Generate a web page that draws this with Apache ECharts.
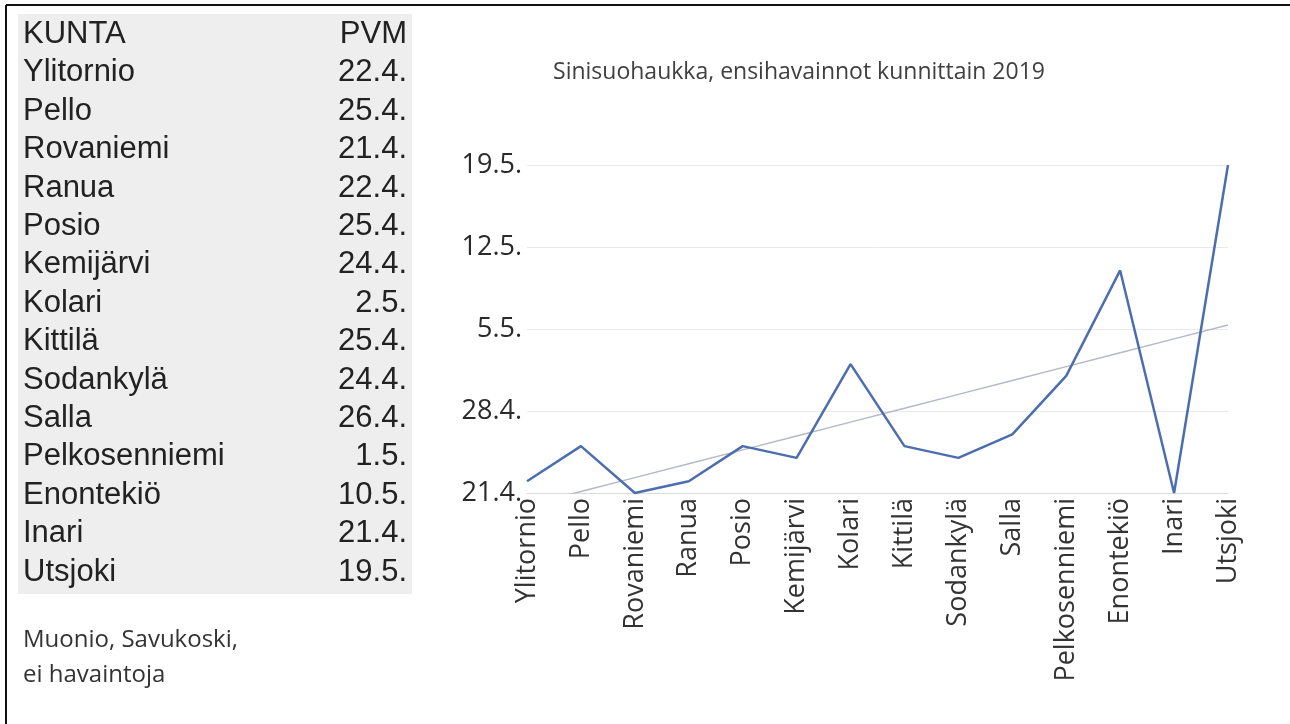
<!DOCTYPE html>
<html>
<head>
<meta charset="utf-8">
<script src="https://cdn.jsdelivr.net/npm/echarts@6/dist/echarts.min.js"></script>
<style>
html,body{margin:0;padding:0;background:#fff;}
#chart{width:1290px;height:724px;}
</style>
</head>
<body>
<div id="chart"></div>
<script>
// ---- Data ----
const municipalities = ["Ylitornio","Pello","Rovaniemi","Ranua","Posio","Kemijärvi","Kolari","Kittilä","Sodankylä","Salla","Pelkosenniemi","Enontekiö","Inari","Utsjoki"];
const firstSeen = ["22.4.","25.4.","21.4.","22.4.","25.4.","24.4.","2.5.","25.4.","24.4.","26.4.","1.5.","10.5.","21.4.","19.5."];
const yTickLabels = ["21.4.","28.4.","5.5.","12.5.","19.5."];
const tableHeader = ["KUNTA","PVM"];
const noteLines = ["Muonio, Savukoski,","ei havaintoja"];
const titleText = "Sinisuohaukka, ensihavainnot kunnittain 2019";

// convert "d.m." to days since the first tick date (21.4.)
const monthLen = [31,28,31,30,31,30,31,31,30,31,30,31];
function dayOfYear(s){
  const p = s.split(".");
  const d = +p[0], m = +p[1];
  let n = d;
  for(let i=0;i<m-1;i++) n += monthLen[i];
  return n;
}
const base = dayOfYear(yTickLabels[0]);
const values = firstSeen.map(s => dayOfYear(s) - base);

// linear trend line (least squares) from the data
const n = values.length;
const xs = values.map((_,i)=>i+1);
const mx = xs.reduce((a,b)=>a+b,0)/n;
const my = values.reduce((a,b)=>a+b,0)/n;
let sxy=0,sxx=0;
for(let i=0;i<n;i++){sxy+=(xs[i]-mx)*(values[i]-my);sxx+=(xs[i]-mx)*(xs[i]-mx);}
const slope = sxy/sxx, icpt = my - slope*mx;
const trend = xs.map(x => icpt + slope*x);

// ---- Table graphics ----
const graphics = [];
graphics.push({type:'rect', shape:{x:18,y:14,width:394,height:580}, style:{fill:'#eeeeee'}, z:-10});
graphics.push({type:'line', shape:{x1:6,y1:5,x2:1290,y2:5}, style:{stroke:'#111',lineWidth:2}});
graphics.push({type:'line', shape:{x1:6,y1:5,x2:6,y2:724}, style:{stroke:'#111',lineWidth:2}});
const rowY0 = 36, rowH = 38.4;
const tFont = '31px "Liberation Sans", Arial, sans-serif';
graphics.push({type:'text', left:23, top:rowY0-17, style:{text:tableHeader[0], font:tFont, fill:'#222'}});
graphics.push({type:'text', right:1290-407, top:rowY0-17, style:{text:tableHeader[1], font:tFont, fill:'#222'}});
municipalities.forEach((m,i)=>{
  const y = rowY0 + rowH*(i+1) - 17;
  graphics.push({type:'text', left:23, top:y, style:{text:m, font:tFont, fill:'#222'}});
  graphics.push({type:'text', right:1290-407, top:y, style:{text:firstSeen[i], font:tFont, fill:'#222'}});
});
noteLines.forEach((t,i)=>{
  graphics.push({type:'text', left:23, top:628+35*i, style:{text:t, font:'24px "Open Sans", sans-serif', fill:'#333'}});
});

const chart = echarts.init(document.getElementById('chart'));
chart.setOption({
  animation:false,
  backgroundColor:'#fff',
  title:{text:titleText, left:794, top:56, textAlign:'center',
    textStyle:{fontFamily:'Open Sans', fontSize:23, fontWeight:'normal', color:'#404040'}},
  grid:{left:527, right:62, top:165, bottom:231, containLabel:false},
  xAxis:{type:'category', data:municipalities, boundaryGap:false,
    axisLine:{lineStyle:{color:'#dcdcdc', width:1}},
    axisTick:{show:false},
    axisLabel:{rotate:90, interval:0, margin:5, fontFamily:'Open Sans', fontSize:27, color:'#333'}},
  yAxis:{type:'value', min:0, max:28, interval:7,
    axisLine:{show:false}, axisTick:{show:false},
    splitLine:{lineStyle:{color:'#e9e9e9', width:1}},
    axisLabel:{margin:5, fontFamily:'Open Sans', fontSize:27, color:'#2a2a2a',
      formatter: v => yTickLabels[Math.round(v/7)]}},
  series:[
    {type:'line', data:trend, symbol:'none', z:1, clip:true,
      lineStyle:{color:'#b4b9c6', width:1.5}},
    {type:'line', data:values, symbol:'none', z:2, clip:false,
      lineStyle:{color:'#4d6eae', width:2.5}}
  ],
  graphic:graphics
});
</script>
</body>
</html>
